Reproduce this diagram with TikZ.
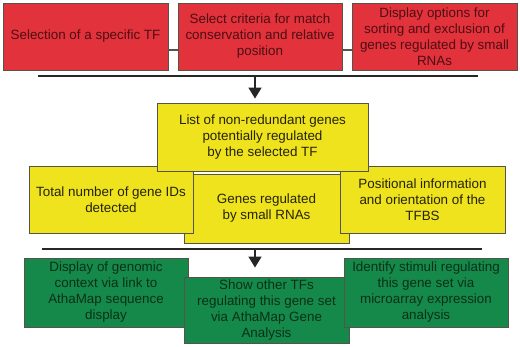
\documentclass[tikz,border=0pt]{standalone}
\usepackage{fontspec}
\setmainfont{Liberation Sans}
\usepackage{xcolor}
\usetikzlibrary{arrows.meta}
\definecolor{FlowRed}{HTML}{E2323C}
\definecolor{FlowRedText}{HTML}{4E0E12}
\definecolor{FlowYellow}{HTML}{EEE31C}
\definecolor{FlowYellowText}{HTML}{26230A}
\definecolor{FlowGreen}{HTML}{15894A}
\definecolor{FlowGreenText}{HTML}{0A3019}
\definecolor{FlowEdge}{HTML}{55534A}

\tikzset{
  flowbox/.style={draw=FlowEdge,line width=0.9pt,rectangle,align=center,inner sep=0pt,
    font=\fontsize{13.4}{16}\selectfont},
  redbox/.style={flowbox,fill=FlowRed,text=FlowRedText},
  yellowbox/.style={flowbox,fill=FlowYellow,text=FlowYellowText},
  greenbox/.style={flowbox,fill=FlowGreen,text=FlowGreenText},
  bar/.style={line width=1.6pt,black!85},
  down/.style={bar,-{Triangle[length=11pt,width=13pt]}}
}

\begin{document}
\begin{tikzpicture}[x=1pt,y=-1pt]
\path[use as bounding box] (0,0) rectangle (520,347);
% selection step
\node[redbox,minimum width=165,minimum height=67] (tf) at (85.5,36.5) {Selection of a specific TF};
\node[redbox,minimum width=164,minimum height=67] (crit) at (260,36.5) {Select criteria for match\\conservation and relative\\position};
\node[redbox,minimum width=165,minimum height=67] (opts) at (434.5,36.5) {Display options for\\sorting and exclusion of\\genes regulated by small\\RNAs};
\draw[line width=1.3pt,FlowEdge] ([yshift=-13.5pt]tf.east) -- ([yshift=-13.5pt]crit.west);
\draw[line width=1.3pt,FlowEdge] ([yshift=-13.5pt]crit.east) -- ([yshift=-13.5pt]opts.west);
\coordinate (bar1w) at (38,76);
\coordinate (bar1e) at (478,76);
\coordinate (arr1) at (255,76);
\draw[bar] (bar1w) -- (bar1e);
% result step
\node[yellowbox,minimum width=165,minimum height=69] (small) at (266.5,208.5) {Genes regulated\\by small RNAs};
\node[yellowbox,minimum width=164,minimum height=67] (total) at (111,199.5) {Total number of gene IDs\\detected};
\node[yellowbox,minimum width=165,minimum height=67] (tfbs) at (422.5,199.5) {Positional information\\and orientation of the\\TFBS};
\node[yellowbox,minimum width=211,minimum height=68] (list) at (262.5,137) {List of non-redundant genes\\potentially regulated\\by the selected TF};
\draw[down,shorten >=4pt] (arr1) -- (arr1 |- list.north);
\coordinate (bar2w) at (42,249);
\coordinate (bar2e) at (482,249);
\coordinate (arr2) at (255,249);
\draw[bar] (bar2w) -- (bar2e);
% analysis step
\node[greenbox,minimum width=164,minimum height=69] (context) at (106,292.5) {Display of genomic\\context via link to\\AthaMap sequence\\display};
\node[greenbox,minimum width=165,minimum height=66] (others) at (266.5,310) {Show other TFs\\regulating this gene set\\via AthaMap Gene\\Analysis};
\node[greenbox,minimum width=164,minimum height=69] (stimuli) at (426,292.5) {Identify stimuli regulating\\this gene set via\\microarray expression\\analysis};
\draw[down,shorten >=9pt] (arr2) -- (arr2 |- others.north);
\end{tikzpicture}
\end{document}
